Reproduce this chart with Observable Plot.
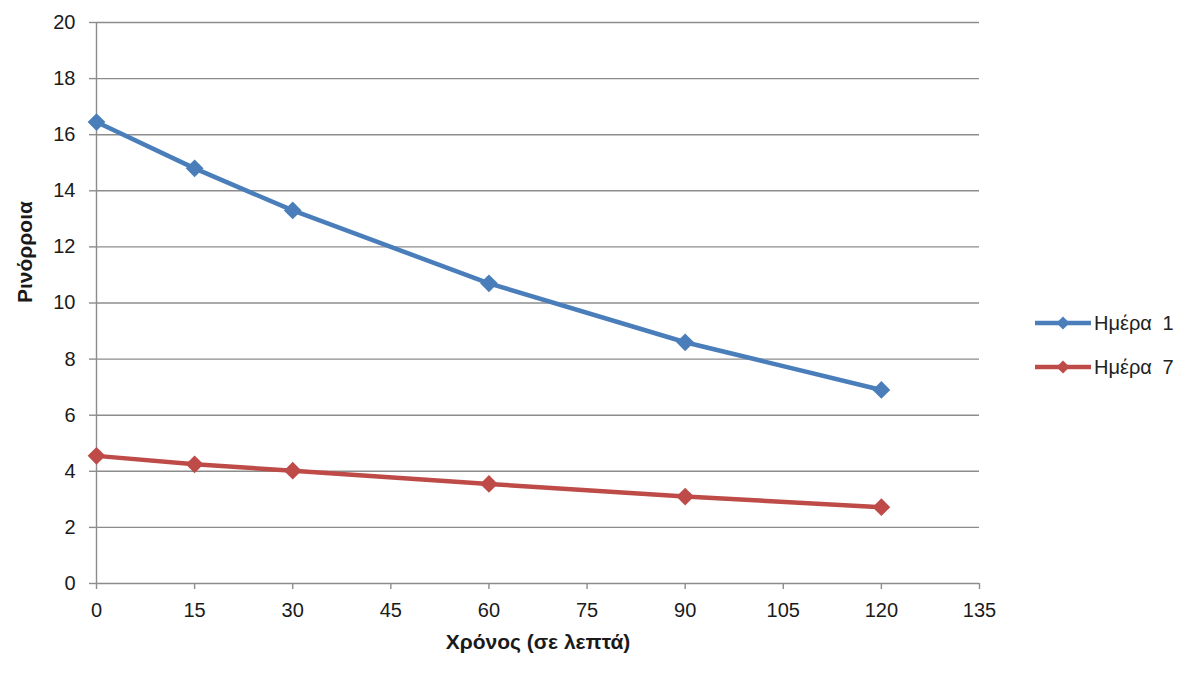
<!DOCTYPE html>
<html>
<head>
<meta charset="utf-8">
<script src="https://cdn.jsdelivr.net/npm/d3@7"></script>
<script src="https://cdn.jsdelivr.net/npm/@observablehq/plot@0.6"></script>
<style>
  html, body { margin: 0; padding: 0; background: #fff; }
  #wrap { position: relative; width: 1200px; height: 680px; font-family: "Liberation Sans", Arial, sans-serif; }
  #legend { position: absolute; left: 1035px; top: 309px; font-size: 20px; color: #222; }
  .item { display: flex; align-items: center; height: 28px; margin-bottom: 16px; }
  .item span { margin-left: 3px; word-spacing: 5px; }
</style>
</head>
<body>
<div id="wrap"><div id="legend"></div></div>
<script>
const xTicks = [0, 15, 30, 45, 60, 75, 90, 105, 120, 135];
const yTicks = [0, 2, 4, 6, 8, 10, 12, 14, 16, 18, 20];
const times = [0, 15, 30, 60, 90, 120];
const seriesNames = ["Ημέρα 1", "Ημέρα 7"];
const day1 = [16.45, 14.8, 13.3, 10.7, 8.6, 6.9];
const day7 = [4.55, 4.25, 4.02, 3.55, 3.1, 2.72];
const colors = ["#4A7EBB", "#BE4B48"];
const xTitle = "Χρόνος (σε λεπτά)";
const yTitle = "Ρινόρροια";

const data = [
  ...times.map((t, i) => ({t, v: day1[i], s: seriesNames[0]})),
  ...times.map((t, i) => ({t, v: day7[i], s: seriesNames[1]}))
];

const gridColor = "#8c8c8c";

const chart = Plot.plot({
  width: 1200,
  height: 680,
  marginLeft: 96,
  marginRight: 221,
  marginTop: 22,
  marginBottom: 97,
  style: {fontFamily: "'Liberation Sans', Arial, sans-serif", fontSize: "20px", color: "#1a1a1a", background: "#fff"},
  x: {domain: [0, 135]},
  y: {domain: [0, 20]},
  color: {domain: seriesNames, range: colors},
  marks: [
    Plot.gridY(yTicks, {stroke: gridColor, strokeOpacity: 1, strokeWidth: 1.4}),
    Plot.ruleX([0], {stroke: gridColor, strokeWidth: 1.4}),
    Plot.axisX(xTicks, {tickSize: 6, tickPadding: 13, stroke: gridColor, strokeWidth: 1.4, label: null, fill: "#1a1a1a", fontSize: 20}),
    Plot.axisY(yTicks, {tickSize: 7, tickPadding: 14, stroke: gridColor, strokeWidth: 1.4, label: null, fill: "#1a1a1a", fontSize: 20}),
    Plot.line(data, {x: "t", y: "v", z: "s", stroke: "s", strokeWidth: 4.5}),
    Plot.dot(data, {x: "t", y: "v", fill: "s", symbol: "diamond2", r: 8, stroke: "none"}),
    Plot.text([xTitle], {frameAnchor: "bottom", dy: 65, fontWeight: "bold", fontSize: 21, fill: "#1a1a1a"}),
    Plot.text([yTitle], {frameAnchor: "left", dx: -71, rotate: -90, fontWeight: "bold", fontSize: 21, fill: "#1a1a1a"})
  ]
});
document.getElementById("wrap").prepend(chart);

const legend = d3.select("#legend");
seriesNames.forEach((name, i) => {
  const item = legend.append("div").attr("class", "item");
  const svg = item.append("svg").attr("width", 56).attr("height", 20);
  svg.append("line").attr("x1", 0).attr("x2", 56).attr("y1", 10).attr("y2", 10)
    .attr("stroke", colors[i]).attr("stroke-width", 4.5);
  svg.append("path").attr("d", d3.symbol(d3.symbolDiamond2, 110)())
    .attr("transform", "translate(28,10)").attr("fill", colors[i]);
  item.append("span").text(name.replace(" ", "\u00a0"));
});
</script>
</body>
</html>
